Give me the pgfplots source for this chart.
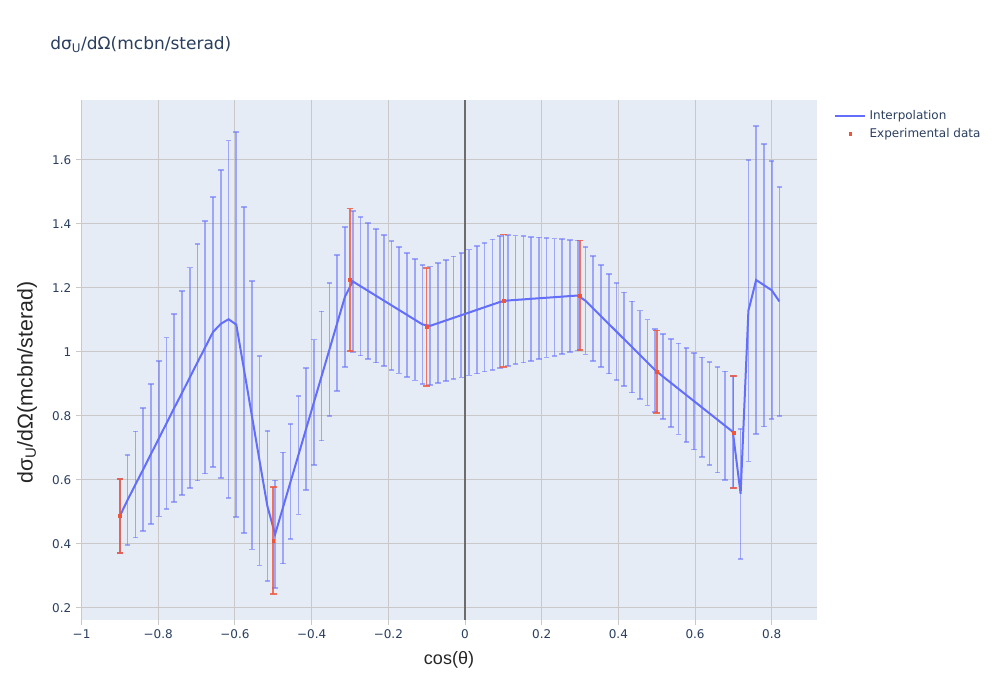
\documentclass[border=0pt]{standalone}
\usepackage{pgfplots}
\pgfplotsset{compat=1.18}
\usepackage{pgfplotstable}
\usepackage{fontspec}
\setmainfont{DejaVu Sans}
\newfontfamily\titlefont{DejaVu Sans}
\newfontfamily\labfont{Liberation Sans}
\definecolor{bg}{HTML}{E5ECF6}
\definecolor{grd}{HTML}{C9C9C9}
\definecolor{txt}{HTML}{2A3F5F}
\definecolor{pblue}{HTML}{636EFA}
\definecolor{pred}{HTML}{EF553B}

\pgfplotstableread{
x y e
-0.9000 0.488 0.116
-0.8798 0.538 0.141
-0.8595 0.586 0.166
-0.8393 0.633 0.192
-0.8191 0.681 0.218
-0.7988 0.729 0.243
-0.7786 0.777 0.268
-0.7584 0.825 0.293
-0.7381 0.872 0.319
-0.7179 0.920 0.344
-0.6976 0.968 0.370
-0.6774 1.015 0.395
-0.6572 1.0625 0.421
-0.6369 1.088 0.481
-0.6167 1.1025 0.558
-0.5965 1.0855 0.602
-0.5762 0.944 0.510
-0.5560 0.802 0.419
-0.5358 0.660 0.327
-0.5155 0.519 0.235
-0.4953 0.4302 0.1683
-0.4751 0.5125 0.1738
-0.4548 0.5952 0.1794
-0.4346 0.6775 0.1850
-0.4144 0.7598 0.1905
-0.3941 0.8425 0.1961
-0.3739 0.9249 0.2017
-0.3536 1.0076 0.2073
-0.3334 1.0899 0.2128
-0.3132 1.1722 0.2184
-0.2929 1.2207 0.2207
-0.2727 1.2058 0.2168
-0.2525 1.1908 0.2130
-0.2322 1.1758 0.2091
-0.2120 1.1609 0.2053
-0.1918 1.1459 0.2014
-0.1715 1.1309 0.1976
-0.1513 1.1160 0.1937
-0.1311 1.1010 0.1899
-0.1108 1.0860 0.1861
-0.0906 1.0819 0.1851
-0.0704 1.0901 0.1874
-0.0501 1.0985 0.1897
-0.0299 1.1067 0.1921
-0.0096 1.1151 0.1944
0.0106 1.1233 0.1967
0.0308 1.1316 0.1990
0.0511 1.1400 0.2014
0.0713 1.1482 0.2037
0.0915 1.1565 0.2060
0.1118 1.1610 0.2049
0.1320 1.1627 0.2012
0.1522 1.1644 0.1976
0.1725 1.1662 0.1940
0.1927 1.1679 0.1903
0.2129 1.1696 0.1867
0.2332 1.1713 0.1830
0.2534 1.1730 0.1794
0.2736 1.1748 0.1758
0.2939 1.1765 0.1721
0.3141 1.1602 0.1680
0.3344 1.1360 0.1638
0.3546 1.1119 0.1595
0.3748 1.0878 0.1553
0.3951 1.0636 0.1510
0.4153 1.0396 0.1468
0.4355 1.0155 0.1425
0.4558 0.9913 0.1383
0.4760 0.9672 0.1340
0.4962 0.9431 0.1298
0.5165 0.9230 0.1328
0.5367 0.9038 0.1374
0.5569 0.8847 0.1421
0.5772 0.8654 0.1468
0.5974 0.8463 0.1514
0.6176 0.8271 0.1560
0.6379 0.8079 0.1607
0.6581 0.7887 0.1654
0.6784 0.7695 0.1700
0.6986 0.7503 0.1747
0.7188 0.557 0.203
0.7391 1.129 0.471
0.7593 1.225 0.482
0.7795 1.209 0.442
0.7998 1.193 0.403
0.8200 1.158 0.357
}\interp

\pgfplotstableread{
x y e
-0.9 0.488 0.116
-0.5 0.411 0.167
-0.3 1.226 0.222
-0.1 1.078 0.184
0.1 1.160 0.207
0.3 1.177 0.171
0.5 0.9386 0.129
0.7 0.749 0.175
}\expdata

\begin{document}
\begin{tikzpicture}
\useasboundingbox (0,0) rectangle (750pt,525pt);
\fill[white] (0,0) rectangle (750pt,525pt);
\begin{axis}[
  at={(60.75pt,60pt)}, anchor=south west,
  scale only axis, width=552pt, height=390pt,
  xmin=-1.0015, xmax=0.918, ymin=0.1625, ymax=1.7875,
  axis background/.style={fill=bg},
  axis line style={draw=none},
  grid=major,
  major grid style={grd, line width=0.75pt},
  xtick={-1,-0.8,-0.6,-0.4,-0.2,0,0.2,0.4,0.6,0.8},
  xticklabels={−1,−0.8,−0.6,−0.4,−0.2,0,0.2,0.4,0.6,0.8},
  ytick={0.2,0.4,0.6,0.8,1,1.2,1.4,1.6},
  yticklabels={0.2,0.4,0.6,0.8,1,1.2,1.4,1.6},
  tick align=outside,
  major tick length=3.75pt,
  tick style={grd, line width=0.75pt},
  xtick pos=bottom, ytick pos=left,
  ticklabel style={font=\fontsize{9}{10}\selectfont, text=txt},
  legend style={at={(1,1)}, anchor=north west, xshift=12.75pt, yshift=-7.75pt,
    draw=none, fill=none, font=\titlefont\fontsize{9}{10.8}\selectfont, text=txt,
    row sep=5pt, cells={anchor=west}, inner sep=0pt,
    nodes={inner xsep=2.5pt, inner ysep=0pt}},
  clip=false,
]
\draw[gray!85!black, line width=0.9pt] (axis cs:0,0.1625) -- (axis cs:0,1.7875);
\addplot[pblue, line width=1.5pt, mark=none,
  legend image code/.code={\draw[pblue, line width=1.5pt] (0pt,0pt) -- (22.5pt,0pt);},
  error bars/.cd, y dir=both, y explicit, error mark=|,
  error bar style={pblue, opacity=0.55, line width=1.25pt},
  error mark options={pblue, opacity=0.55, line width=1.25pt, mark size=2.1pt}]
  table[x=x, y=y, y error=e] {\interp};
\addlegendentry{Interpolation}
\addplot[pred, only marks, mark=square*, mark size=1.1pt,
  legend image code/.code={\draw[mark repeat=2, mark phase=2, mark size=0.9pt] plot coordinates {(0pt,0pt) (11.25pt,0pt) (22.5pt,0pt)};},
  error bars/.cd, y dir=both, y explicit, error mark=|,
  error bar style={pred, opacity=0.8, line width=1.25pt},
  error mark options={pred, opacity=0.8, line width=1.25pt, mark size=2.5pt}]
  table[x=x, y=y, y error=e] {\expdata};
\addlegendentry{Experimental data}
\end{axis}
\node[anchor=base west, text=txt, font=\titlefont\fontsize{12.75}{15}\selectfont, inner sep=0pt]
  at (37.5pt,488pt) {dσ\textsubscript{U}/dΩ(mcbn/sterad)};
\node[rotate=90, text=black!85, font=\labfont\fontsize{16}{19}\selectfont, inner sep=0pt]
  at (20.25pt,238pt) {dσ\textsubscript{U}/dΩ(mcbn/sterad)};
\node[text=black!85, font=\labfont\fontsize{13.5}{16}\selectfont, inner sep=0pt]
  at (336.75pt,30pt) {cos(θ)};
\end{tikzpicture}
\end{document}
